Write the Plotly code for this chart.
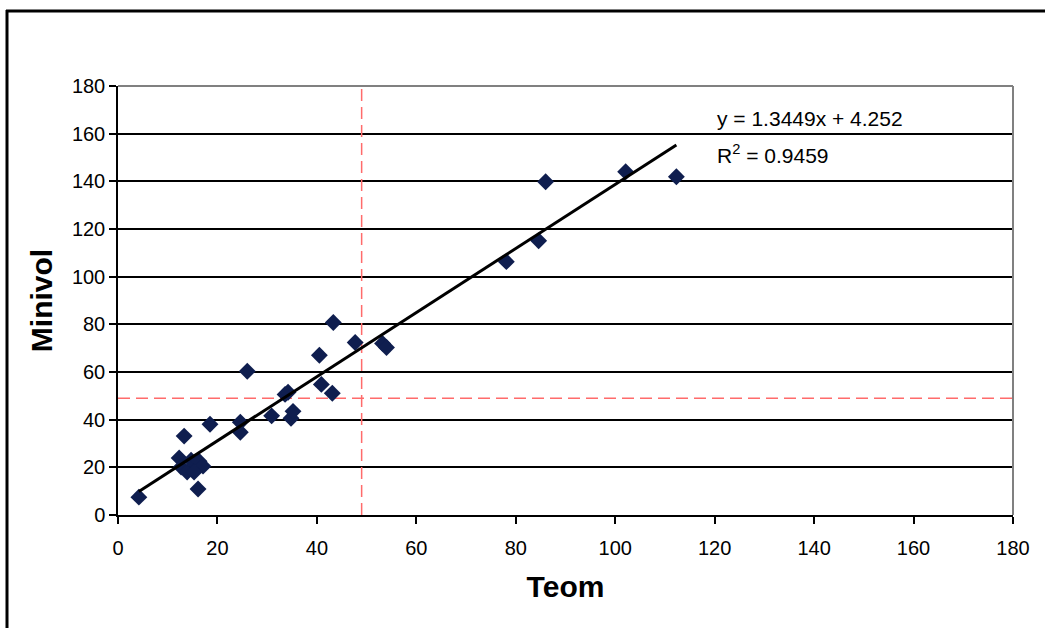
import plotly.graph_objects as go

# Data
teom = [4.2, 16.1, 13.3, 18.5, 12.3, 12.7, 13.9, 14.7, 16.3, 17.1, 15.3,
        24.6, 24.6, 26.0, 30.9, 33.6, 34.2, 34.8, 35.2, 40.5, 40.9, 43.1,
        43.3, 47.7, 53.2, 54.0, 78.1, 84.6, 86.0, 102.1, 112.3]
minivol = [7.5, 10.9, 33.1, 38.1, 23.9, 20.1, 18.0, 23.0, 22.6, 20.5, 18.0,
           38.9, 34.7, 60.3, 41.6, 50.6, 51.5, 40.6, 43.5, 67.0, 54.8, 51.1,
           80.8, 72.4, 72.0, 70.3, 106.3, 115.1, 139.8, 144.0, 141.9]
slope = 1.3449
intercept = 4.252
r_squared = 0.9459
threshold_x = 49
threshold_y = 49
tick_vals = [0, 20, 40, 60, 80, 100, 120, 140, 160, 180]

FONT = "Liberation Sans, Arial, sans-serif"

fit_x = [min(teom), max(teom)]
fit_y = [slope * v + intercept for v in fit_x]

fig = go.Figure()

# threshold lines
fig.add_trace(go.Scatter(x=[0, 180], y=[threshold_y, threshold_y], mode="lines",
                         line=dict(color="#FF6B6B", width=1.5, dash="12px,6px"),
                         hoverinfo="skip", showlegend=False))
fig.add_trace(go.Scatter(x=[threshold_x, threshold_x], y=[0, 180], mode="lines",
                         line=dict(color="#FF6B6B", width=1.5, dash="12px,6px"),
                         hoverinfo="skip", showlegend=False))

fig.add_trace(go.Scatter(x=teom, y=minivol, mode="markers",
                         marker=dict(symbol="diamond", size=13, color="#0F1E4F",
                                     line=dict(width=0)),
                         showlegend=False))

fig.add_trace(go.Scatter(x=fit_x, y=fit_y, mode="lines",
                         line=dict(color="black", width=3), showlegend=False))

fig.add_annotation(x=120, y=166.5, xref="x", yref="y", xanchor="left", yanchor="middle",
                   text=f"y = {slope}x + {intercept}", showarrow=False,
                   font=dict(family=FONT, size=21, color="black"))
fig.add_annotation(x=120, y=151.5, xref="x", yref="y", xanchor="left", yanchor="middle",
                   text=f"R<sup>2</sup> = {r_squared}", showarrow=False,
                   font=dict(family=FONT, size=21, color="black"))

# plot-area gray border (top & right)
fig.add_shape(type="line", xref="paper", yref="paper", x0=0, x1=1, y0=1, y1=1,
              line=dict(color="#808080", width=2), layer="above")
fig.add_shape(type="line", xref="paper", yref="paper", x0=1, x1=1, y0=0, y1=1,
              line=dict(color="#808080", width=2), layer="above")

# outer chart frame (left & top)
W, H = 1045, 628
ml, mr, mt, mb = 118, 32, 86, 113
pw, ph = W - ml - mr, H - mt - mb
def px(xp):
    return (xp - ml) / pw
def py(yp):
    return 1 - (yp - mt) / ph
fig.add_shape(type="line", xref="paper", yref="paper", x0=px(6), x1=px(W + 5),
              y0=py(11), y1=py(11), line=dict(color="black", width=3))
fig.add_shape(type="line", xref="paper", yref="paper", x0=px(7), x1=px(7),
              y0=py(10), y1=py(H + 5), line=dict(color="black", width=3))

axis_common = dict(range=[0, 180], tickvals=tick_vals, ticks="outside", ticklen=7,
                   tickwidth=1.5, tickcolor="black", showline=True, linecolor="black",
                   linewidth=1.5, zeroline=False,
                   tickfont=dict(family=FONT, size=20, color="black"))

fig.update_xaxes(**axis_common, showgrid=False, ticklabelstandoff=7,
                 title=dict(text="<b>Teom</b>", standoff=18,
                            font=dict(family=FONT, size=30, color="black")))
fig.update_yaxes(**axis_common, showgrid=True, gridcolor="black", gridwidth=1.5,
                 title=dict(text="<b>Minivol</b>", standoff=10,
                            font=dict(family=FONT, size=30, color="black")))

fig.update_layout(width=W, height=H, margin=dict(l=ml, r=mr, t=mt, b=mb, autoexpand=False),
                  plot_bgcolor="white", paper_bgcolor="white", showlegend=False)

fig.write_html("out.html", config={"displayModeBar": False},
               post_script="document.body.style.margin='0px';document.body.style.overflow='hidden';")
